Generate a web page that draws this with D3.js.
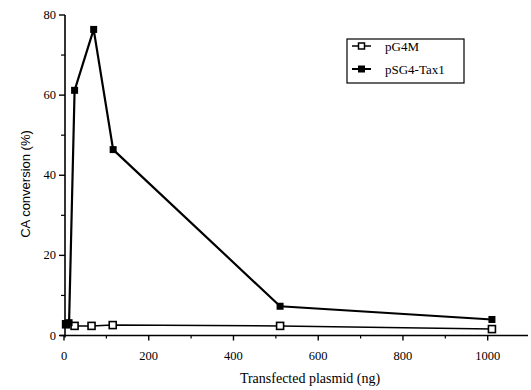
<!DOCTYPE html>
<html>
<head>
<meta charset="utf-8">
<script src="https://cdn.jsdelivr.net/npm/d3@7"></script>
<style>
  body { margin: 0; background: #fff; }
  svg { display: block; }
  .tick-label { font-family: "Liberation Serif", serif; font-size: 12.5px; fill: #000; }
  .axis-title-x { font-family: "Liberation Serif", serif; font-size: 14px; fill: #000; }
  .axis-title-y { font-family: "Liberation Sans", sans-serif; font-size: 13px; fill: #000; }
  .legend-text { font-family: "Liberation Serif", serif; font-size: 13px; fill: #000; }
</style>
</head>
<body>
<div id="chart"></div>
<script>
// Data
const seriesNames = ["pG4M", "pSG4-Tax1"];
const pG4M_x = [5, 25, 65, 115, 510, 1010];
const pG4M_y = [2.8, 2.4, 2.4, 2.6, 2.4, 1.6];
const tax1_x = [5, 12, 25, 70, 116, 510, 1010];
const tax1_y = [2.8, 3.2, 61.2, 76.4, 46.4, 7.3, 4.0];
const xTicks = [0, 200, 400, 600, 800, 1000];
const xMinorTicks = [100, 300, 500, 700, 900];
const yTicks = [0, 20, 40, 60, 80];
const yMinorTicks = [10, 30, 50, 70];

const W = 531, H = 390;
const svg = d3.select("#chart").append("svg")
  .attr("width", W).attr("height", H);

const x = d3.scaleLinear().domain([0, 1000]).range([64, 487.7]);
const y = d3.scaleLinear().domain([0, 80]).range([335.5, 15]);

// Axes lines
svg.append("line")
  .attr("x1", 60).attr("x2", 528)
  .attr("y1", y(0)).attr("y2", y(0))
  .attr("stroke", "#000").attr("stroke-width", 1.6);
svg.append("line")
  .attr("x1", x(0) + 1).attr("x2", x(0) + 1)
  .attr("y1", y(80)).attr("y2", y(0) + 2)
  .attr("stroke", "#000").attr("stroke-width", 1.6);

// X ticks
svg.selectAll(".xt").data(xTicks).enter().append("line")
  .attr("x1", d => x(d)).attr("x2", d => x(d))
  .attr("y1", y(0)).attr("y2", y(0) + 5)
  .attr("stroke", "#000").attr("stroke-width", 1.4);
svg.selectAll(".xm").data(xMinorTicks).enter().append("line")
  .attr("x1", d => x(d)).attr("x2", d => x(d))
  .attr("y1", y(0)).attr("y2", y(0) + 3)
  .attr("stroke", "#000").attr("stroke-width", 1.2);
svg.selectAll(".xl").data(xTicks).enter().append("text")
  .attr("class", "tick-label")
  .attr("x", d => x(d)).attr("y", 360)
  .attr("text-anchor", "middle")
  .text(d => d);

// Y ticks
svg.selectAll(".yt").data(yTicks).enter().append("line")
  .attr("x1", x(0) + 1).attr("x2", x(0) - 5)
  .attr("y1", d => y(d)).attr("y2", d => y(d))
  .attr("stroke", "#000").attr("stroke-width", 1.4);
svg.selectAll(".ym").data(yMinorTicks).enter().append("line")
  .attr("x1", x(0) + 1).attr("x2", x(0) - 3)
  .attr("y1", d => y(d)).attr("y2", d => y(d))
  .attr("stroke", "#000").attr("stroke-width", 1.2);
svg.selectAll(".yl").data(yTicks).enter().append("text")
  .attr("class", "tick-label")
  .attr("x", 56).attr("y", d => y(d) + 4)
  .attr("text-anchor", "end")
  .text(d => d);

// Axis titles
svg.append("text")
  .attr("class", "axis-title-x")
  .attr("x", 310).attr("y", 383)
  .attr("text-anchor", "middle")
  .text("Transfected plasmid (ng)");
svg.append("text")
  .attr("class", "axis-title-y")
  .attr("transform", "translate(30,184) rotate(-90)")
  .attr("text-anchor", "middle")
  .text("CA conversion (%)");

// Lines
const line = d3.line().x(d => x(d[0])).y(d => y(d[1]));
const pG4M = pG4M_x.map((v, i) => [v, pG4M_y[i]]);
const tax1 = tax1_x.map((v, i) => [v, tax1_y[i]]);

svg.append("path").datum(pG4M)
  .attr("d", line).attr("fill", "none")
  .attr("stroke", "#000").attr("stroke-width", 1.5);
svg.append("path").datum(tax1)
  .attr("d", line).attr("fill", "none")
  .attr("stroke", "#000").attr("stroke-width", 2.2);

const s = 7;
svg.selectAll(".m1").data(pG4M).enter().append("rect")
  .attr("x", d => x(d[0]) - s / 2).attr("y", d => y(d[1]) - s / 2)
  .attr("width", s).attr("height", s)
  .attr("fill", "#fff").attr("stroke", "#000").attr("stroke-width", 1.6);
svg.selectAll(".m2").data(tax1).enter().append("rect")
  .attr("x", d => x(d[0]) - s / 2).attr("y", d => y(d[1]) - s / 2)
  .attr("width", s).attr("height", s)
  .attr("fill", "#000");

// Legend
const lg = svg.append("g");
lg.append("rect")
  .attr("x", 347).attr("y", 39).attr("width", 117).attr("height", 44)
  .attr("fill", "#fff").attr("stroke", "#000").attr("stroke-width", 1.2);
seriesNames.forEach((name, i) => {
  const ly = 46 + i * 23;
  lg.append("line")
    .attr("x1", 352).attr("x2", 371).attr("y1", ly).attr("y2", ly)
    .attr("stroke", "#000").attr("stroke-width", i ? 2 : 1.5);
  lg.append("rect")
    .attr("x", 361.5 - (i ? 3.5 : 3)).attr("y", ly - (i ? 3.5 : 3))
    .attr("width", i ? 7 : 6).attr("height", i ? 7 : 6)
    .attr("fill", i ? "#000" : "#fff").attr("stroke", "#000").attr("stroke-width", i ? 0 : 1.5);
  lg.append("text")
    .attr("class", "legend-text")
    .attr("x", 385).attr("y", ly + 4.5)
    .text(name);
});
</script>
</body>
</html>
